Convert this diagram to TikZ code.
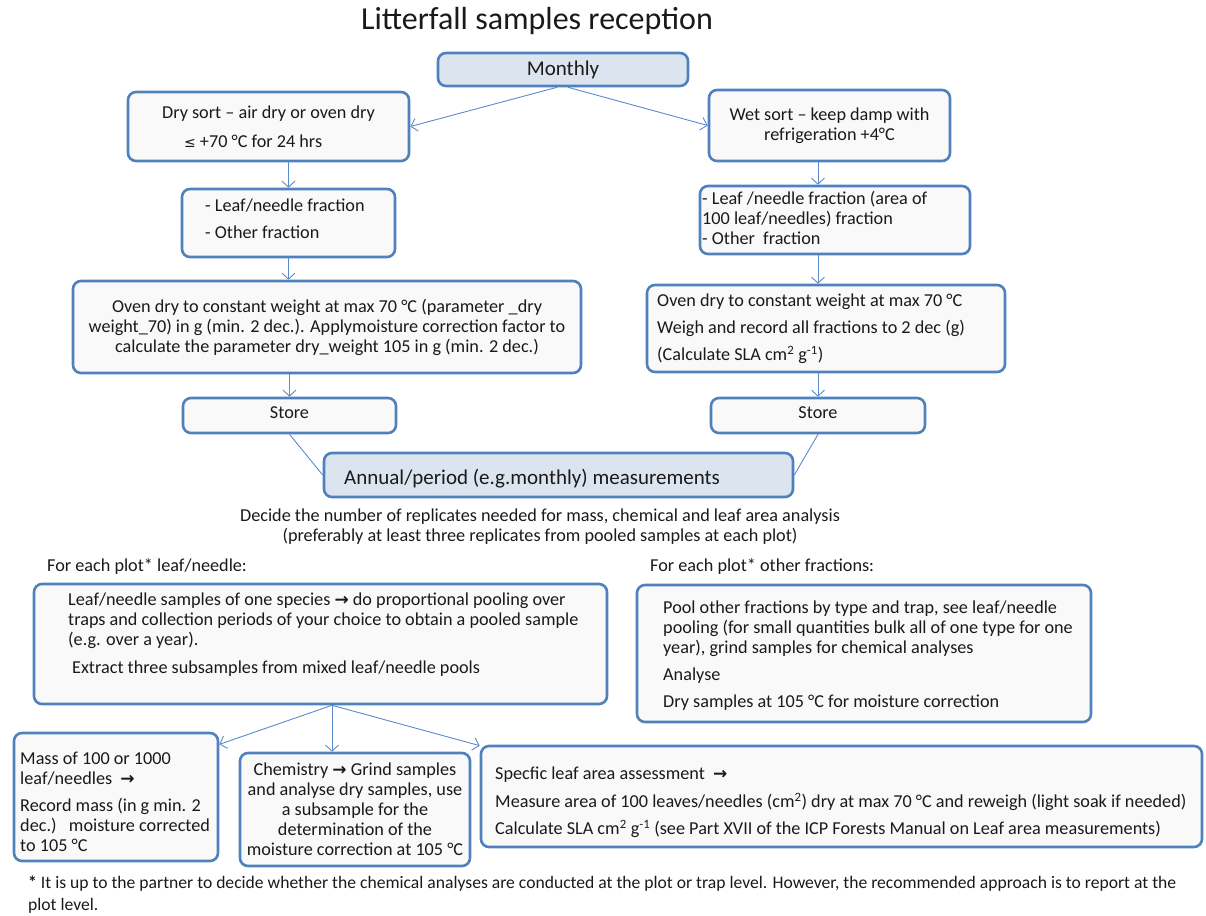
\documentclass[tikz,border=0pt]{standalone}
\usepackage{fontspec}
\setmainfont{Carlito}
\newfontfamily\sym{DejaVu Sans}
\usetikzlibrary{arrows.meta,calc}
\definecolor{bc}{HTML}{4F81BD}
\definecolor{ac}{HTML}{5B8BCB}
\definecolor{hf}{HTML}{DCE4EF}
\definecolor{bf}{HTML}{F9F9F9}
\definecolor{tx}{HTML}{1A1A1A}
\newcommand\fs{\fontsize{18.2}{20}\selectfont}
\newcommand\rar{{\sym\bfseries\fontsize{17}{17}\selectfont →}}
\begin{document}
\begin{tikzpicture}[x=1pt,y=-1pt,
  box/.style={draw=bc, line width=2.6pt, rounded corners=8pt, fill=bf, inner sep=0pt, font=\fs, text=tx, align=center},
  hbox/.style={box, fill=hf},
  txt/.style={anchor=north west, inner sep=0pt, font=\fs, text=tx, align=left},
  arr/.style={draw=ac, line width=0.9pt, -{Straight Barb[length=6pt,width=13pt,line width=0.9pt]}},
  ln/.style={draw=ac, line width=0.9pt}]
\useasboundingbox (0,0) rectangle (1206,915);

\node[font=\fontsize{32}{36}\selectfont, text=tx, inner sep=0pt] (title) at (537,21) {Litterfall samples reception};

\node[hbox, minimum width=250, minimum height=33, font=\fontsize{21}{24}\selectfont] (monthly) at (563,69.5) {Monthly};

\node[box, minimum width=281, minimum height=69, align=left] (dry) at (268.5,126.5)
  {Dry sort – air dry or oven dry\\[9pt]\hspace*{22pt}{\sym\fontsize{14}{14}\selectfont ≤} +70 °C for 24 hrs};

\node[box, minimum width=241, minimum height=71] (wet) at (829.5,125.5)
  {Wet sort – keep damp with\\refrigeration +4°C};

\node[box, minimum width=213, minimum height=68] (leafL) at (288.5,223) {};
\node[txt] (leafLt) at (205,199) {- Leaf/needle fraction\\[7pt]- Other fraction};

\node[box, minimum width=270, minimum height=68] (fracR) at (835,220) {};
\node[txt] (fracRt) at (702,191) {- Leaf /needle fraction (area of\\100 leaf/needles) fraction\\- Other\ \ fraction};

\node[box, minimum width=508, minimum height=92] (ovenL) at (327,327)
  {Oven dry to constant weight at max 70 °C (parameter \_dry\\weight\_70) in g (min. 2 dec.). Applymoisture correction factor to\\calculate the parameter dry\_weight 105 in g (min. 2 dec.)};

\node[box, minimum width=358, minimum height=87] (ovenR) at (826,328.5) {};
\node[txt] (ovenRt) at (657,294) {Oven dry to constant weight at max 70 °C\\[7pt]Weigh and record all fractions to 2 dec (g)\\[7pt](Calculate SLA cm\textsuperscript{2} g\textsuperscript{-1})};

\node[box, minimum width=213, minimum height=35] (storeL) at (289.5,415.5) {\raisebox{5pt}{Store}};
\node[box, minimum width=214, minimum height=35] (storeR) at (818,415.5) {\raisebox{5pt}{Store}};

\node[hbox, minimum width=469, minimum height=44] (annual) at (558.5,475) {};
\node[anchor=west, inner sep=0pt, font=\fontsize{21}{24}\selectfont, text=tx] (annualt) at (344,479) {Annual/period (e.g.monthly) measurements};

\node[inner sep=0pt, font=\fs, text=tx, align=center] (decide) at (540,527)
  {Decide the number of replicates needed for mass, chemical and leaf area analysis\\(preferably at least three replicates from pooled samples at each plot)};

\node[anchor=west, inner sep=0pt, font=\fs, text=tx] (forL) at (47,566) {For each plot* leaf/needle:};
\node[anchor=west, inner sep=0pt, font=\fs, text=tx] (forR) at (650,566) {For each plot* other fractions:};

\node[box, minimum width=573, minimum height=120] (pool) at (320.5,644) {};
\node[txt] (poolt) at (68,593) {Leaf/needle samples of one species \rar{} do proportional pooling over\\traps and collection periods of your choice to obtain a pooled sample\\(e.g. over a year).\\[8pt]\hspace*{4pt}Extract three subsamples from mixed leaf/needle pools};

\node[box, minimum width=454, minimum height=137] (other) at (864,653.5) {};
\node[txt] (othert) at (663,601) {Pool other fractions by type and trap, see leaf/needle\\pooling (for small quantities bulk all of one type for one\\year), grind samples for chemical analyses\\[7pt]Analyse\\[7pt]Dry samples at 105 °C for moisture correction};

\node[box, minimum width=204, minimum height=128] (mass) at (116,797) {};
\node[txt] (masst) at (20,752) {Mass of 100 or 1000\\leaf/needles\ \ \rar\\[7pt]Record mass (in g min. 2\\dec.)\ \ \ moisture corrected\\to 105 °C};

\node[box, minimum width=230, minimum height=113] (chem) at (355,809.5)
  {Chemistry \rar{} Grind samples\\and analyse dry samples, use\\a subsample for the\\determination of the\\moisture correction at 105 °C};

\node[box, minimum width=721, minimum height=101] (sla) at (841.5,796.5) {};
\node[txt] (slat) at (495,767) {Specfic leaf area assessment\ \ \rar\\[7.5pt]Measure area of 100 leaves/needles (cm\textsuperscript{2}) dry at max 70 °C and reweigh (light soak if needed)\\[7.5pt]Calculate SLA cm\textsuperscript{2} g\textsuperscript{-1} (see Part XVII of the ICP Forests Manual on Leaf area measurements)};

\node[anchor=north west, inner sep=0pt, font=\fontsize{17.6}{22}\selectfont, text=tx, align=left] (foot) at (28,876)
  {\textbf{*} It is up to the partner to decide whether the chemical analyses are conducted at the plot or trap level. However, the recommended approach is to report at the\\plot level.};

% connectors
\draw[arr] ($(monthly.south)+(-6,0)$) -- (dry.east);
\draw[arr] ($(monthly.south)+(5,0)$) -- (wet.west);
\draw[arr] (dry.south -| leafL.north) -- (leafL.north);
\draw[arr] (leafL.south) -- (leafL.south |- ovenL.north);
\draw[arr] (ovenL.south -| storeL.north) -- (storeL.north);
\draw[ln] (storeL.south) -- (annual.west);
\draw[arr] (wet.south -| storeR.north) -- (fracR.north -| storeR.north);
\draw[arr] (fracR.south -| storeR.north) -- (ovenR.north -| storeR.north);
\draw[arr] (ovenR.south -| storeR.north) -- (storeR.north);
\draw[ln] (storeR.south) -- (annual.east);
\coordinate (ps) at ($(pool.south west)!0.52!(pool.south east)$);
\draw[arr] (ps) -- (mass.27);
\draw[arr] (ps) -- (ps |- chem.north);
\draw[arr] (ps) -- (sla.172);
\end{tikzpicture}
\end{document}
